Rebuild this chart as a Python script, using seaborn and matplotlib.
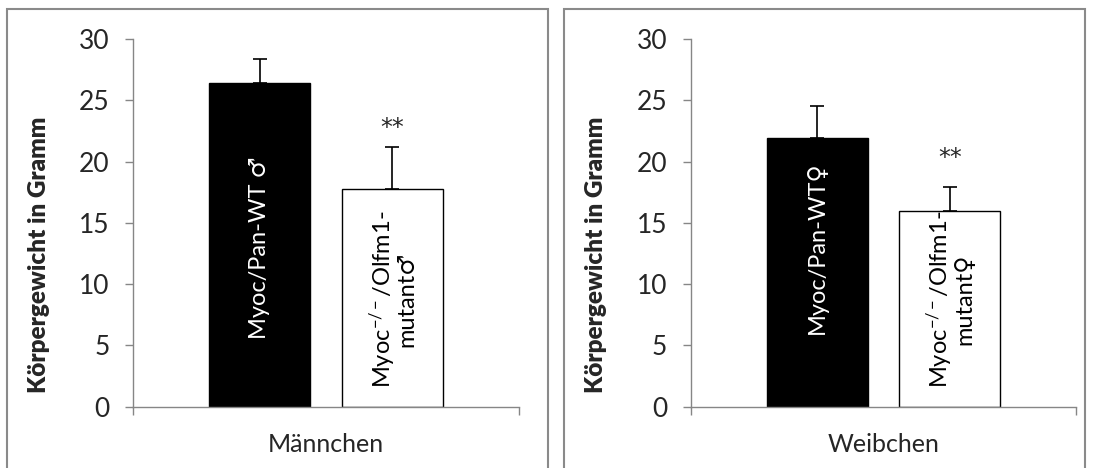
import numpy as np
import pandas as pd
import seaborn as sns
import matplotlib.pyplot as plt
from matplotlib.patches import Rectangle
from matplotlib.ticker import FixedLocator

# Daten: Körpergewicht (Mittelwert und SD) je Geschlecht und Genotyp
groups = ["Männchen", "Weibchen"]
genotypes = ["WT", "mutant"]
means_m = [26.4, 17.8]
sd_m = [2.0, 3.4]
means_w = [21.9, 15.95]
sd_w = [2.6, 2.0]
labels_m = ["Myoc/Pan-WT ♂", "Myoc$^{-/-}$/Olfm1-\nmutant♂"]
labels_w = ["Myoc/Pan-WT♀", "Myoc$^{-/-}$/Olfm1-\nmutant♀"]
label_y = [13.0, 8.8]
stars = "**"
stars_y = [22.7, 20.3]
y_ticks = [0, 5, 10, 15, 20, 25, 30]

sns.set_style("white")
plt.rcParams['font.family'] = ['Lato', 'DejaVu Sans']
plt.rcParams['mathtext.fontset'] = 'custom'
plt.rcParams['mathtext.rm'] = 'Lato'
plt.rcParams['mathtext.it'] = 'Lato:italic'
plt.rcParams['mathtext.bf'] = 'Lato:bold'

df = pd.DataFrame({
    "gruppe": [groups[0]] * 2 + [groups[1]] * 2,
    "genotyp": genotypes * 2,
    "gewicht": means_m + means_w,
})

fig = plt.figure(figsize=(10.93, 4.68), dpi=100)
grey = "#868686"

# Rahmen um die beiden Diagramme
for x0, w in [(7, 541), (564, 521)]:
    fig.add_artist(Rectangle((x0 / 1093, -0.1), w / 1093, 1.1 - 9 / 468,
                             transform=fig.transFigure, fill=False,
                             edgecolor="#8a8a8a", lw=1.5))

panels = [
    (groups[0], sd_m, labels_m, 133.3 / 1093, stars_y[0]),
    (groups[1], sd_w, labels_w, 690.7 / 1093, stars_y[1]),
]

for grp, sds, labs, left, sy in panels:
    ax = fig.add_axes([left, 61.3 / 468, 385.5 / 1093, 367.7 / 468])
    sub = df[df["gruppe"] == grp]
    sns.barplot(data=sub, x="gruppe", y="gewicht", hue="genotyp",
                palette=["black", "white"], edgecolor="black", linewidth=1.0,
                width=0.689, gap=0.24, legend=False, ax=ax, errorbar=None)
    bars = ax.patches[:2]
    xs = [b.get_x() + b.get_width() / 2 for b in bars]
    hs = [b.get_height() for b in bars]
    ax.errorbar(xs, hs, yerr=[[0, 0], sds], fmt="none", ecolor="black",
                elinewidth=1.2, capsize=5, capthick=1.2, zorder=1)
    for b in bars:
        b.set_zorder(2)

    ax.text(xs[0], label_y[0], labs[0], rotation=90, ha="center", va="center",
            color="white", fontsize=17, zorder=3)
    ax.text(xs[1], label_y[1], labs[1], rotation=90, ha="center", va="center",
            color="black", fontsize=17, linespacing=0.95, zorder=3)
    ax.text(xs[1], sy, stars, ha="center", va="center", fontsize=17,
            family=["DejaVu Sans"], zorder=3)

    ax.set_ylim(0, 30)
    ax.set_xlim(-0.5, 0.5)
    ax.set_yticks(y_ticks)
    ax.xaxis.set_minor_locator(FixedLocator([-0.5, 0.5]))
    ax.tick_params(axis="x", which="major", length=0, pad=19, labelsize=18)
    ax.tick_params(axis="x", which="minor", length=6, width=1.0, color=grey,
                   direction="out", bottom=True)
    ax.tick_params(axis="y", length=6, width=1.0, color=grey, direction="out",
                   left=True, labelsize=19, pad=11)
    ax.set_xlabel("")
    ax.set_ylabel("Körpergewicht in Gramm", fontsize=17.5, fontweight="heavy")
    ax.yaxis.set_label_coords(-0.216, 0.4126)
    for s in ["top", "right"]:
        ax.spines[s].set_visible(False)
    for s in ["left", "bottom"]:
        ax.spines[s].set_color(grey)
        ax.spines[s].set_linewidth(1.0)

fig.savefig("out.png", dpi=100)
